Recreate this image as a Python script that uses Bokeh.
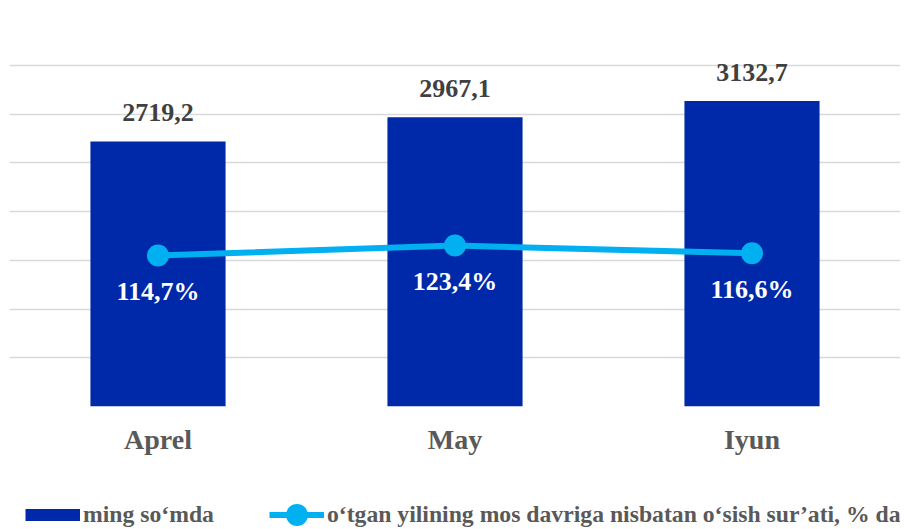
from bokeh.plotting import figure
from bokeh.layouts import column
from bokeh.models import ColumnDataSource, FactorRange, Range1d, FixedTicker, Legend, LegendItem
from bokeh.embed import file_html
from bokeh.resources import INLINE
from bokeh.core.properties import value

months = ["Aprel", "May", "Iyun"]
amounts = [2719.2, 2967.1, 3132.7]
growth = [114.7, 123.4, 116.6]
amount_labels = ["2719,2", "2967,1", "3132,7"]
growth_labels = ["114,7%", "123,4%", "116,6%"]
grid_ticks = [0, 500, 1000, 1500, 2000, 2500, 3000, 3500]
legend_bar = "ming so‘mda"
legend_line = "o‘tgan yilining mos davriga nisbatan o‘sish sur’ati, % da"

BAR = "#0029A9"
LINE = "#00B0F0"
FONT = "Liberation Serif"

src = ColumnDataSource(dict(m=months, a=amounts, g=growth, al=amount_labels, gl=growth_labels))

p = figure(x_range=FactorRange(*months), y_range=Range1d(0, 4000),
           width=907, height=490, output_backend="svg", toolbar_location=None,
           min_border_left=9, min_border_right=7, min_border_top=16, min_border_bottom=84,
           outline_line_color=None)
p.extra_y_ranges = {"pct": Range1d(-16.7, 322.7)}

p.vbar(x="m", top="a", width=0.455, source=src, fill_color=BAR, line_color=None)
p.line(x="m", y="g", source=src, y_range_name="pct", line_color=LINE, line_width=6)
p.scatter(x="m", y="g", source=src, y_range_name="pct", size=22,
          fill_color=LINE, line_color=None)

p.text(x="m", y="a", text="al", source=src, text_align="center", text_baseline="alphabetic",
       y_offset=-29, text_font=value(FONT), text_font_style="bold", text_font_size="26px",
       text_color="#404040")
p.text(x="m", y="g", text="gl", source=src, y_range_name="pct", text_align="center",
       text_baseline="alphabetic", y_offset=36, text_font=value(FONT), text_font_style="bold",
       text_font_size="26px", text_color="white")

p.ygrid.ticker = FixedTicker(ticks=grid_ticks)
p.ygrid.grid_line_color = "#D9D9D9"
p.ygrid.grid_line_width = 1.5
p.xgrid.grid_line_color = None
p.yaxis.visible = False

p.xaxis.axis_line_color = None
p.xaxis.major_tick_line_color = None
p.xaxis.minor_tick_line_color = None
p.xaxis.major_label_text_font = FONT
p.xaxis.major_label_text_font_style = "bold"
p.xaxis.major_label_text_font_size = "28px"
p.xaxis.major_label_text_color = "#595959"
p.xaxis.major_label_standoff = 11

# legend strip (key renderers sit outside the visible range, only their legend swatches show)
lf = figure(width=907, height=39, output_backend="svg", toolbar_location=None,
            x_range=Range1d(0, 1), y_range=Range1d(0, 1),
            x_axis_type=None, y_axis_type=None, outline_line_color=None,
            min_border_left=0, min_border_right=0, min_border_top=0, min_border_bottom=0)
key_src = ColumnDataSource(dict(x=[5, 6], y=[5, 6]))
bar_key = lf.line(x="x", y="y", source=key_src, line_color=BAR, line_width=12, line_cap="butt")
line_key = lf.line(x="x", y="y", source=key_src, line_color=LINE, line_width=6)
dot_key = lf.scatter(x="x", y="y", source=key_src, fill_color=LINE, line_color=None)

legend = Legend(items=[LegendItem(label=legend_bar, renderers=[bar_key]),
                       LegendItem(label=legend_line, renderers=[line_key, dot_key])],
                orientation="horizontal", location=(16, -13),
                glyph_width=55, glyph_height=55, label_standoff=3, spacing=55,
                padding=0, margin=0, border_line_color=None, background_fill_alpha=0,
                label_text_font=FONT, label_text_font_style="bold",
                label_text_font_size="23.7px", label_text_color="#595959")
lf.add_layout(legend)

layout = column(p, lf, spacing=0)
open("out.html", "w").write(file_html(layout, INLINE))
